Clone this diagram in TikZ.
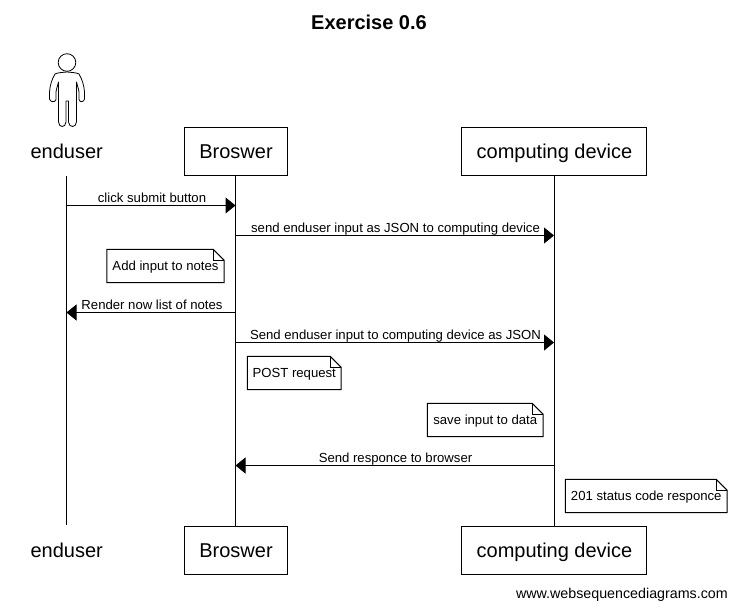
\documentclass[tikz,border=0pt]{standalone}
\usepackage{fontspec}
\setmainfont{Liberation Sans}
\usetikzlibrary{arrows.meta}
\tikzset{
  head/.style={draw=black,line width=1pt,fill=white,minimum height=48pt,inner sep=0pt,text height=18pt,text depth=4pt,font=\fontsize{20}{24}\selectfont},
  plainhead/.style={inner sep=0pt,text height=18pt,text depth=4pt,font=\fontsize{20}{24}\selectfont},
  life/.style={draw=black,line width=1pt},
  msg/.style={draw=black,line width=1pt,-{Triangle[length=10pt,width=16pt]},shorten >=0pt},
  msglabel/.style={inner sep=0pt,font=\fontsize{13.15}{15}\selectfont,anchor=base},
  notetext/.style={inner sep=0pt,text height=11pt,text depth=3pt,font=\fontsize{13.15}{15}\selectfont},
  noteline/.style={draw=black,line width=1pt,line join=miter,fill=white},
  foldline/.style={draw=black,line width=.7pt},
}
\newcommand{\notebox}[6]{% name x0 y0 x1 y1 text
  \node[notetext,minimum width=#4pt-#2pt,minimum height=#5pt-#3pt] (#1) at ({(#2+#4)/2},{(#3+#5)/2}) {};
  \draw[noteline] (#1.south west) -- (#1.north west) -- ([xshift=-11pt]#1.north east) -- ([yshift=-11pt]#1.north east) -- (#1.south east) -- cycle;
  \draw[foldline] ([xshift=-11pt]#1.north east) -- ([xshift=-11pt,yshift=-11pt]#1.north east) -- ([yshift=-11pt]#1.north east);
  \node[notetext] (#1t) at (#1.center) {#6};
}
\begin{document}
\begin{tikzpicture}[x=1pt,y=-1pt]
\useasboundingbox (0,0) rectangle (736,608);
\node[inner sep=0pt,font=\bfseries\fontsize{20}{24}\selectfont] (title) at (369,22.5) {Exercise 0.6};

% lifeline anchors
\node[plainhead] (utop) at (66.7,151) {enduser};
\node[plainhead] (ubot) at (66.7,550) {enduser};
\node[head,minimum width=103pt] (btop) at (235.5,151) {\hspace{1pt}Broswer};
\node[head,minimum width=103pt] (bbot) at (235.5,550) {\hspace{1pt}Broswer};
\node[head,minimum width=185pt] (ctop) at (554,151) {\hspace{1pt}computing device};
\node[head,minimum width=185pt] (cbot) at (554,550) {\hspace{1pt}computing device};

\coordinate (u0) at (66.5,175.5);
\coordinate (u1) at (66.5,525);
\draw[life] (u0) -- (u1);
\draw[life] (btop.south) -- (bbot.north);
\draw[life] (ctop.south) -- (cbot.north);

% actor
\draw[line width=.8pt,fill=white] (67,62.5) circle (8.8);
\draw[line width=.8pt,line join=round,fill=white]
  (67,72) .. controls (62,72.5) and (58,72.5) .. (55,74)
  .. controls (52,79) and (50,85) .. (49.5,92)
  -- (49.5,99) .. controls (50,102) and (55,103) .. (56,99.5)
  -- (56,92) .. controls (56.5,88) and (58,85) .. (58.5,82)
  -- (58.5,122) .. controls (59,128) and (65.5,128) .. (66,122)
  -- (66,101) -- (68.5,101) -- (68.5,122)
  .. controls (69,128) and (76,128) .. (76.5,122)
  -- (76.5,82) .. controls (77,85) and (78.5,88) .. (79,92)
  -- (79,99.5) .. controls (80,103) and (84,102) .. (84.5,99)
  -- (84.5,92) .. controls (84,85) and (82,79) .. (79,74)
  .. controls (76,72.5) and (72,72.5) .. (67,72) -- cycle;

% messages
\coordinate (m1u) at (66.5,205.5);  \coordinate (m1b) at (235.5,205.5);
\coordinate (m2b) at (235.5,235.5); \coordinate (m2c) at (554,235.5);
\coordinate (m3b) at (235.5,312.5); \coordinate (m3u) at (66.5,312.5);
\coordinate (m4b) at (235.5,342.5); \coordinate (m4c) at (554,342.5);
\coordinate (m5c) at (554,465.5); \coordinate (m5b) at (235.5,465.5);

\draw[msg] (m1u) -- (m1b);
\draw[msg] (m2b) -- (m2c);
\draw[msg] (m3b) -- (m3u);
\draw[msg] (m4b) -- (m4c);
\draw[msg] (m5c) -- (m5b);

\node[msglabel] (l1) at (152,202) {click submit button};
\node[msglabel] (l2) at (395.5,232) {send enduser input as JSON to computing device};
\node[msglabel] (l3) at (152,309) {Render now list of notes};
\node[msglabel] (l4) at (395.5,339) {Send enduser input to computing device as JSON};
\node[msglabel] (l5) at (395.5,462) {Send responce to browser};

% notes
\notebox{n1}{107}{249.5}{224}{282.5}{Add input to notes}
\notebox{n2}{247.5}{356.5}{341}{389.5}{POST request}
\notebox{n3}{427.5}{403.5}{543}{436.5}{save input to data}
\notebox{n4}{565.5}{479.5}{727}{512.5}{201 status code responce}

\node[inner sep=0pt,anchor=base east,font=\fontsize{14.27}{16}\selectfont] (wm) at (728,598) {www.websequencediagrams.com};
\end{tikzpicture}
\end{document}
